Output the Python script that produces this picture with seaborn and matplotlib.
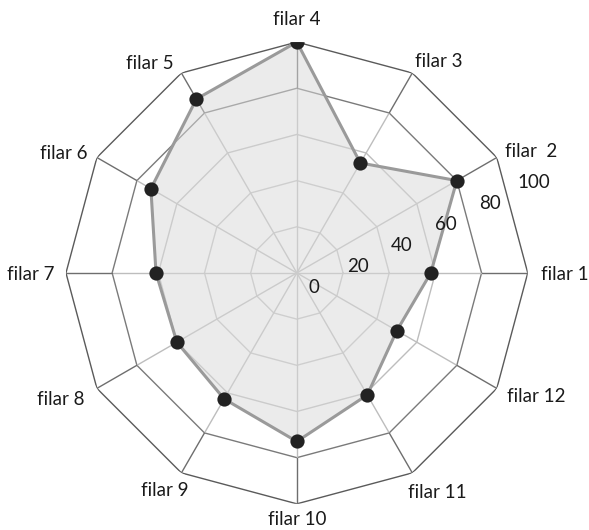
import numpy as np
import matplotlib
matplotlib.use("Agg")
import matplotlib.pyplot as plt
import seaborn as sns

categories = ["filar 1", "filar  2", "filar 3", "filar 4", "filar 5", "filar 6",
              "filar 7", "filar 8", "filar 9", "filar 10", "filar 11", "filar 12"]
values = [58, 80, 55, 100, 87, 73, 61, 60, 63, 73, 61, 50]
ring_ticks = [0, 20, 40, 60, 80, 100]

sns.set_theme(style="white")
plt.rcParams['font.family'] = ['Lato', 'DejaVu Sans']

fig = plt.figure(figsize=(5.89, 5.30), dpi=100)
ax = fig.add_axes([0.112, 0.049, 0.784, 0.872], projection="polar")
ax.set_ylim(0, 100)
ax.set_frame_on(False)
ax.grid(False)
ax.set_xticks([])
ax.set_yticks([])

n = len(categories)
theta = np.deg2rad(np.arange(n) * 360.0 / n)
theta_c = np.append(theta, theta[0])

# polygon rings
ring_colors = {20: "#c4c4c4", 40: "#c4c4c4", 60: "#bdbdbd", 80: "#7a7a7a", 100: "#5a5a5a"}
for r in ring_ticks[1:]:
    ax.plot(theta_c, [r] * (n + 1), color=ring_colors[r], lw=1.0, zorder=1)

# spokes
for t in theta:
    ax.plot([t, t], [0, 80], color="#bdbdbd", lw=1.0, zorder=1)
    ax.plot([t, t], [80, 100], color="#6e6e6e", lw=1.0, zorder=1)

# data polygon
vals_c = np.append(values, values[0])
ax.fill(theta_c, vals_c, color="#d9d9d9", alpha=0.5, zorder=2, lw=0)
ax.plot(theta_c, vals_c, color="#9a9a9a", lw=2.2, zorder=3)
sns.scatterplot(x=theta, y=values, ax=ax, color="#222222", s=105,
                edgecolor="#222222", linewidth=0, zorder=4, legend=False)

# category label placement (radius, angle in degrees, alignment)
label_cfg = [
    (105.6, 0.0, "left"),
    (104.6, 30.6, "left"),
    (105.4, 61.0, "left"),
    (110.4, 90.0, "center"),
    (105.8, 120.2, "right"),
    (104.6, 149.9, "right"),
    (104.8, 180.0, "right"),
    (106.5, 210.5, "right"),
    (104.8, 243.5, "right"),
    (106.0, 270.0, "center"),
    (105.8, 297.0, "left"),
    (105.1, 329.8, "left"),
]
for lab, (rr, ang, ha) in zip(categories, label_cfg):
    ax.text(np.deg2rad(ang), rr, lab, ha=ha, va="center_baseline", fontsize=13.5,
            color="#1a1a1a", clip_on=False)

# radial tick labels
scale = 100 / 231.0
for v in ring_ticks:
    px = 17 + 2.2 * v
    py = -13 + 1.05 * v
    rr = np.hypot(px, py) * scale
    tt = np.arctan2(py, px)
    ax.text(tt, rr, str(v), ha="center", va="center_baseline", fontsize=13.5,
            color="#1a1a1a", zorder=5, clip_on=False)

fig.savefig("out.png", dpi=100)
